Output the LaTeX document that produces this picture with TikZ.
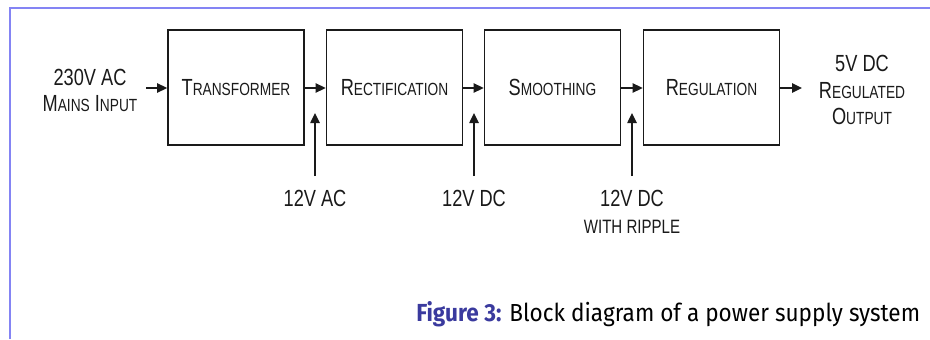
\documentclass[tikz,border=0pt]{standalone}
\usepackage{fontspec}
\setmainfont{Liberation Sans}
\newfontfamily\dfont[FakeStretch=0.78]{Liberation Sans}
\newfontfamily\capfont[FakeStretch=0.915]{Fira Sans}
\usetikzlibrary{arrows.meta}
\definecolor{frameblue}{HTML}{8484F4}
\definecolor{capblue}{HTML}{3A3A9E}
\definecolor{ink}{HTML}{1A1A1A}
\newcommand\Sc[2]{#1{\fontsize{13.2pt}{14pt}\selectfont #2}}
\begin{document}
\begin{tikzpicture}[x=0.75pt,y=-0.75pt,
 block/.style={draw=ink, line width=1.25pt, minimum width=102pt, minimum height=86.25pt, inner sep=0pt, font=\dfont\fontsize{17.5pt}{20pt}\selectfont, text=ink},
 lbl/.style={font=\dfont\fontsize{17.5pt}{20pt}\selectfont, text=ink, align=center, inner sep=0pt},
 arr/.style={draw=ink, line width=1.1pt, -{Triangle[length=7.5pt,width=7pt]}}]
\useasboundingbox (0,0) rectangle (930,339);
\fill[white] (0,0) rectangle (930,339);
% frame
\draw[frameblue, line width=1pt] (10,339) -- (10,8) -- (930,8);
% blocks
\node[block] (tr) at (236,87.5) {\Sc{T}{RANSFORMER}};
\node[block] (re) at (394.5,87.5) {\Sc{R}{ECTIFICATION}};
\node[block] (sm) at (552.5,87.5) {\Sc{S}{MOOTHING}};
\node[block] (rg) at (711.5,87.5) {\Sc{R}{EGULATION}};
% input / output labels
\node[lbl, font=\dfont\fontsize{17.5pt}{19.5pt}\selectfont] (in) at (90,90) {230V AC\\\Sc{M}{AINS} \Sc{I}{NPUT}};
\node[lbl, font=\dfont\fontsize{17.5pt}{20.2pt}\selectfont] (out) at (862,90) {5V DC\\\Sc{R}{EGULATED}\\\Sc{O}{UTPUT}};
\coordinate (inS) at (146,88);
\coordinate (outE) at (802,88);
% horizontal arrows
\draw[arr] (inS) -- (tr.west |- inS);
\draw[arr] (tr.east |- inS) -- (re.west |- inS);
\draw[arr] (re.east |- inS) -- (sm.west |- inS);
\draw[arr] (sm.east |- inS) -- (rg.west |- inS);
\draw[arr] (rg.east |- inS) -- (outE);
% bottom labels
\node[lbl, anchor=north, inner ysep=10.5pt] (l1) at (315,176) {12V AC};
\node[lbl, anchor=north, inner ysep=10.5pt] (l2) at (474,176) {12V DC};
\node[lbl, anchor=north, inner ysep=10.5pt] (l3) at (632,176) {12V DC};
\node[lbl, font=\dfont\fontsize{14.5pt}{16pt}\selectfont] (l3b) at (632,227) {WITH RIPPLE};
\coordinate (t1) at (315,113);
\coordinate (t2) at (474,113);
\coordinate (t3) at (632,113);
\draw[arr] (l1.north) -- (t1);
\draw[arr] (l2.north) -- (t2);
\draw[arr] (l3.north) -- (t3);
% caption
\node[anchor=base west, inner sep=0pt] (cap) at (416,321) {\capfont\fontsize{18.5pt}{20pt}\selectfont\textcolor{capblue}{\bfseries Figure 3:} Block diagram of a power supply system};
\end{tikzpicture}
\end{document}
